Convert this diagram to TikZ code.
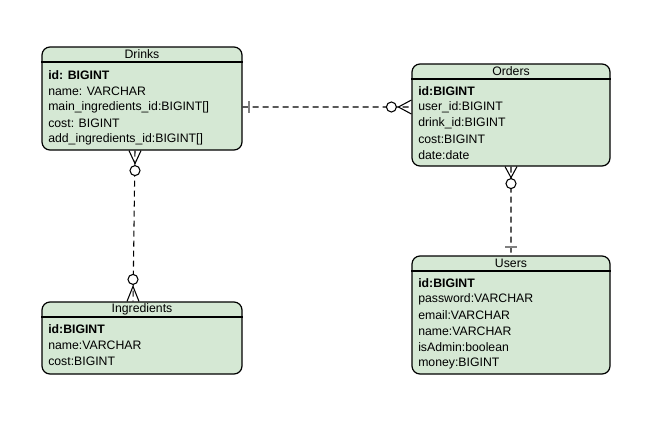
\documentclass[tikz,border=0pt]{standalone}
\usepackage{fontspec}
\setmainfont{Liberation Sans}
\usepackage{tikz}
\usetikzlibrary{
    calc,
    positioning
}
\definecolor{tablegreen}{HTML}{D5E8D4}
\definecolor{bargray}{HTML}{808080}

\begin{document}
\begin{tikzpicture}[x=0.75pt, y=-0.75pt, font=\fontsize{9.2}{11}\selectfont,
        table/.style={draw, fill=tablegreen, rounded corners=6pt, line width=0.9pt, inner sep=0pt},
        title/.style={anchor=north, inner sep=0pt, minimum height=11.25pt},
        field/.style={anchor=west, inner sep=0pt},
        rel/.style={line width=0.8pt, dash pattern=on 4.5pt off 3pt},
        foot/.style={line width=0.8pt},
        bar/.style={line width=1.4pt, bargray},
        ring/.style={line width=0.8pt, fill=white}]
        \useasboundingbox (0, 0) rectangle (659, 425);
        % tables
        \node[table, minimum width=150pt, minimum height=77.25pt] (drinks) at (142, 98.5) {};
        \node[table, minimum width=148.5pt, minimum height=76.5pt] (orders) at (511, 115) {};
        \node[table, minimum width=150pt, minimum height=54pt] (ingr) at (142, 338) {};
        \node[table, minimum width=148.5pt, minimum height=88.5pt] (users) at (511, 315) {};
        \node[title] (drinksT) at (drinks.north) {Drinks};
        \node[title] (ordersT) at (orders.north) {Orders};
        \node[title] (ingrT) at (ingr.north) {Ingredients};
        \node[title] (usersT) at (users.north) {Users};
        \draw[line width=0.9pt]
        (drinks.west |- drinksT.south) -- (drinks.east |- drinksT.south)
        (orders.west |- ordersT.south) -- (orders.east |- ordersT.south)
        (ingr.west |- ingrT.south) -- (ingr.east |- ingrT.south)
        (users.west |- usersT.south) -- (users.east |- usersT.south);

        % fields
        \node[field] (d1) at (48, 75) {\textbf{id: BIGINT}};
        \node[field] (d2) at (48, 91) {name: VARCHAR};
        \node[field] (d3) at (48, 107) {main\_ingredients\_id:BIGINT[]};
        \node[field] (d4) at (48, 123) {cost: BIGINT};
        \node[field] (d5) at (48, 139) {add\_ingredients\_id:BIGINT[]};
        \node[field] (o1) at (418, 91) {\textbf{id:BIGINT}};
        \node[field] (o2) at (418, 107) {user\_id:BIGINT};
        \node[field] (o3) at (418, 123) {drink\_id:BIGINT};
        \node[field] (o4) at (418, 139) {cost:BIGINT};
        \node[field] (o5) at (418, 155) {date:date};
        \node[field] (i1) at (48, 329) {\textbf{id:BIGINT}};
        \node[field] (i2) at (48, 345) {name:VARCHAR};
        \node[field] (i3) at (48, 361) {cost:BIGINT};
        \node[field] (u1) at (418, 283) {\textbf{id:BIGINT}};
        \node[field] (u2) at (418, 299) {password:VARCHAR};
        \node[field] (u3) at (418, 315) {email:VARCHAR};
        \node[field] (u4) at (418, 331) {name:VARCHAR};
        \node[field] (u5) at (418, 347) {isAdmin:boolean};
        \node[field] (u6) at (418, 363) {money:BIGINT};

        % relations
        \coordinate (dR) at (drinks.east |- d3);
        \coordinate (oL) at (orders.west |- o2);
        \coordinate (dB) at ([xshift=-5.25pt]drinks.south);
        \coordinate (iT) at ([xshift=-6.75pt]ingr.north);
        \coordinate (oB) at (orders.south);
        \coordinate (uT) at (users.north);
        \draw[rel]
        (dR) -- (oL)
        (dB) -- (iT)
        (oB) -- (uT);

        % Drinks -> Orders
        \draw[bar] ($(dR) + (6, -6)$) -- ++(0, 12);
        \draw[foot] ($(oL) + (-13, 0)$) -- ++(13, -7)
                    ($(oL) + (-13, 0)$) -- ++(13, 7);
        \draw[ring] ($(oL) + (-20, 0)$) circle[radius=3.75pt];
        % Drinks -> Ingredients
        \draw[foot] ($(dB) + (0, 13)$) -- ++(-6, -13)
                    ($(dB) + (0, 13)$) -- ++(6, -13);
        \draw[ring] ($(dB) + (0, 20)$) circle[radius=3.75pt];
        \draw[foot] ($(iT) + (0, -15)$) -- ++(-6, 15)
                    ($(iT) + (0, -15)$) -- ++(6, 15);
        \draw[ring] ($(iT) + (0, -22)$) circle[radius=3.75pt];
        % Orders -> Users
        \draw[foot] ($(oB) + (0, 11)$) -- ++(-6, -11)
                    ($(oB) + (0, 11)$) -- ++(6, -11);
        \draw[ring] ($(oB) + (0, 17)$) circle[radius=3.75pt];
        \draw[bar] ($(uT) + (-6, -8)$) -- ++(12, 0);
    \end{tikzpicture}
\end{document}
